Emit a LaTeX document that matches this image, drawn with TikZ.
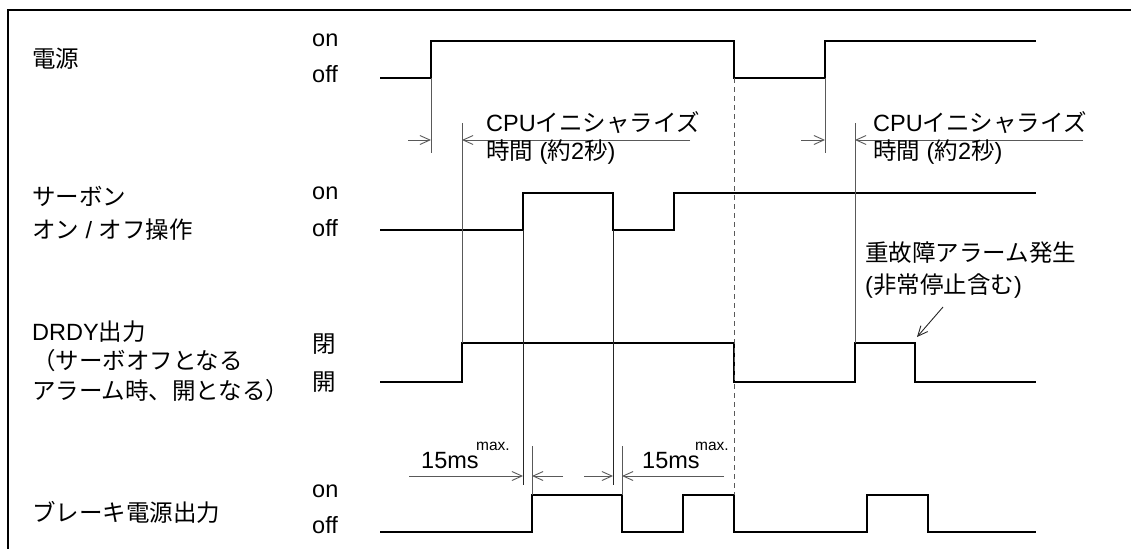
\documentclass[tikz,border=0pt]{standalone}
\usepackage{fontspec}
\setmainfont{Liberation Sans}
\newfontfamily\jpfont{Noto Sans CJK JP}
\newcommand\J[1]{{\jpfont #1}}
\usetikzlibrary{arrows.meta}
\begin{document}
\begin{tikzpicture}[x=1pt,y=-1pt,
  sig/.style={line width=2.4pt, line join=miter, line cap=butt},
  dimline/.style={line width=0.9pt, black!65},
  dimarr/.style={dimline, -{Straight Barb[length=10pt,width=9pt]}},
  lbl/.style={font=\fontsize{23.5}{27}\selectfont, inner sep=0pt, anchor=west},
  lvl/.style={font=\fontsize{23.5}{27}\selectfont, inner sep=0pt, anchor=base west},
  sup/.style={font=\fontsize{15.5}{18}\selectfont, inner sep=0pt, anchor=base west}
]
\useasboundingbox (0,0) rectangle (1131,549);
% frame
\draw[line width=2.4pt] (1131,10) -- (8,10) -- (8,549);

% row labels
\node[lbl] (t1) at (32,59) {\J{電源}};
\node[lbl] (t2a) at (32,196) {\J{サーボン}};
\node[lbl] (t2b) at (32,230) {\J{オン} / \J{オフ操作}};
\node[lbl] (t3a) at (32,332) {DRDY\J{出力}};
\node[lbl] (t3b) at (32,361) {\J{（サーボオフとなる}};
\node[lbl] (t3c) at (32,391) {\J{アラーム時、開となる）}};
\node[lbl] (t4) at (32,512) {\J{ブレーキ電源出力}};

% level labels
\node[lvl] (on1) at (312,46) {on};
\node[lvl] (off1) at (312,82) {off};
\node[lvl] (on2) at (312,199) {on};
\node[lvl] (off2) at (312,236) {off};
\node[lbl] (cl3) at (312,344) {\J{閉}};
\node[lbl] (op3) at (312,382) {\J{開}};
\node[lvl] (on4) at (312,497) {on};
\node[lvl] (off4) at (312,533) {off};

% signals
\draw[sig] (380,78) -| (431,41) -| (734,78) -| (825,41) -- (1036,41);
\draw[sig] (380,230) -| (523,193) -| (613,230) -| (674,193) -- (1036,193);
\draw[sig] (380,382) -| (462,343) -| (734,382) -| (855,343) -| (915,382) -- (1036,382);
\draw[sig] (380,532) -| (532,495) -| (622,532) -| (683,495) -| (734,532) -| (867,495) -| (928,532) -- (1036,532);

% CPU init dimension 1
\draw[dimline] (431,78) -- (431,153);
\draw[dimline] (462,123) -- (462,343);
\draw[dimarr] (408,140) -- (431,140);
\draw[dimarr] (690,140) -- (462,140);
\node[lvl] (cpu1) at (486,131) {CPU\J{イニシャライズ}};
\node[lvl] (tm1) at (486,159) {\J{時間} (\J{約}2\J{秒})};

% CPU init dimension 2
\draw[dimline] (825,78) -- (825,153);
\draw[dimline] (855,123) -- (855,343);
\draw[dimarr] (801,140) -- (825,140);
\draw[dimarr] (1083,140) -- (855,140);
\node[lvl] (cpu2) at (873,131) {CPU\J{イニシャライズ}};
\node[lvl] (tm2) at (873,159) {\J{時間} (\J{約}2\J{秒})};

% servo edge verticals
\draw[dimline, black!85] (523,230) -- (523,485);
\draw[dimline, black!85] (613,230) -- (613,485);
\draw[dimline] (532,446) -- (532,495);
\draw[dimline] (622,446) -- (622,495);

% dashed
\draw[dimline, dash pattern=on 5pt off 4pt] (734,78) -- (734,495);

% 15ms dims
\draw[dimarr] (409,476) -- (523,476);
\draw[dimarr] (563,476) -- (532,476);
\draw[dimarr] (584,476) -- (613,476);
\draw[dimarr] (724,476) -- (622,476);
\node[lvl] (ms1) at (421,468) {15ms};
\node[sup] (mx1) at (476,450) {max.};
\node[lvl] (ms2) at (642,468) {15ms};
\node[sup] (mx2) at (695,450) {max.};

% alarm annotation
\node[lbl] (al1) at (865,253) {\J{重故障アラーム発生}};
\node[lbl] (al2) at (865,286) {(\J{非常停止含む})};
\draw[dimarr, black!85] (943,307) -- (917,337);
\end{tikzpicture}
\end{document}
